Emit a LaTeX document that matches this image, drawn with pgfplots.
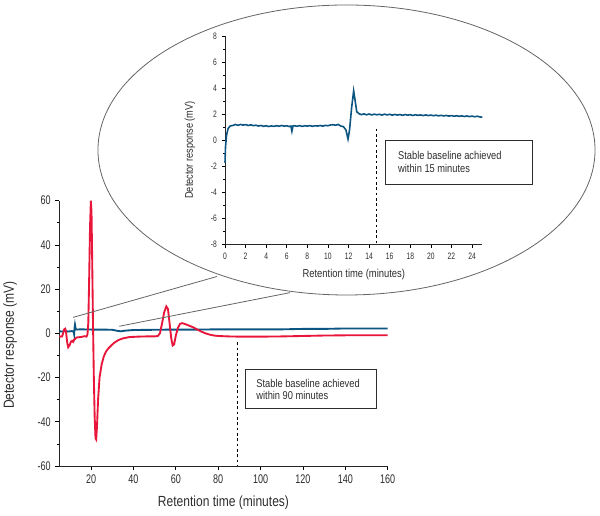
\documentclass[border=0pt]{standalone}
\usepackage{fontspec}
\setmainfont{Liberation Sans}[FakeStretch=0.82]
\newfontfamily\tickfont{Liberation Sans}[FakeStretch=0.72]
\usepackage{pgfplots}
\pgfplotsset{compat=1.18}
\definecolor{cred}{RGB}{232,22,58}
\definecolor{cblue}{RGB}{12,84,130}
\definecolor{cgray}{RGB}{100,100,100}
\definecolor{ctext}{RGB}{45,45,45}

\begin{document}
\begin{tikzpicture}[x=0.75pt,y=0.75pt]
\path[use as bounding box] (0,0) rectangle (600,516);
\draw[cgray, line width=0.6pt] (346.5,366) ellipse [x radius=186.4pt, y radius=108.75pt];

\begin{axis}[name=main, at={(44.475pt,37.5pt)}, anchor=south west, scale only axis,
  width=246.3pt, height=199pt,
  xmin=5, xmax=160, ymin=-60, ymax=60,
  axis x line*=bottom, axis y line*=left,
  axis line style={-, line width=0.7pt, black!85},
  xtick={20,40,...,160}, ytick={-60,-40,...,60}, minor ytick={-50,-30,...,50},
  tick align=outside, major tick length=3pt, minor tick length=2pt,
  tick style={black, line width=0.5pt},
  ticklabel style={font=\tickfont\fontsize{9.4}{10}\selectfont, text=ctext},
  /pgf/number format/assume math mode=true,
  clip=false]
\addplot[cblue, line width=1.4pt] coordinates {
(5,1.0) (6,0.8) (7,0.9) (8,1.0) (9,0.8) (10,0.9) (11,1.0) (11.8,0.8) (12.0,-0.3)
(12.2,2.5) (12.4,3.9) (12.6,2.8) (12.8,1.8) (13,1.7) (15,1.8) (20,1.7) (25,1.7)
(30,1.6) (32,1.2) (34,0.9) (36,1.2) (40,1.5) (50,1.6) (60,1.7) (70,1.7) (80,1.8)
(90,1.8) (100,1.8) (110,1.8) (120,2.0) (130,2.0) (140,2.2) (150,2.2) (160,2.2)};
\addplot[cred, line width=1.4pt] coordinates {
(5,-1.3) (5.5,-1.5) (6.3,-1.4) (6.8,0) (7.3,1.8) (7.8,2.1) (8.2,0.5) (8.7,-4)
(9.2,-6.3) (9.8,-5.5) (10.5,-3.8) (11.0,-3.4) (11.5,-3.9) (12.0,-2.8) (12.5,-2.6)
(13.0,-1.9) (14,-1.8) (15,-1.7) (16,-1.5) (17,-1.3) (17.8,-1.5) (18.3,-0.5)
(18.7,5) (19.1,25) (19.5,48) (19.9,60) (20.2,55) (20.5,35) (20.9,5) (21.3,-20)
(21.7,-38) (22.1,-47.5) (22.4,-48) (22.8,-42) (23.3,-30) (24,-20) (25,-14)
(26,-10.5) (27,-8.3) (28,-7) (29.5,-5.5) (31,-4.2) (33,-3) (35,-2.3) (38,-1.7)
(42,-1.5) (46,-1.4) (50,-1.4) (51.5,-1.2) (52.5,0) (53.5,4.5) (54.5,9.5)
(55.5,12.2) (56.3,11) (57,5) (57.8,-2) (58.5,-5.5) (59.2,-5) (60,-1) (61,2.5)
(62,4.3) (63,4.6) (64,4.3) (66,3.6) (68,2.8) (70,1.8) (72,0.8) (74,0) (76,-0.6)
(78,-1.0) (80,-1.2) (85,-1.4) (90,-1.5) (100,-1.5) (110,-1.4) (120,-1.2)
(130,-1.0) (140,-0.9) (150,-0.9) (160,-0.9)};
\draw[black, line width=0.5pt, dash pattern=on 2pt off 2pt] (axis cs:89,-4) -- (axis cs:89,-60);
\draw[ctext, line width=0.8pt] (axis cs:92.7,-16.4) rectangle (axis cs:154.5,-34.1);
\node[anchor=west, align=left, font=\fontsize{8.5}{9}\selectfont, text=ctext, inner sep=0pt]
  at (axis cs:97.9,-25.2) {Stable baseline achieved\\within 90 minutes};
\draw[cgray, line width=0.6pt] (axis cs:11.5,7.2) -- (axis cs:79.4,25.7);
\draw[cgray, line width=0.6pt] (axis cs:33.3,3.2) -- (axis cs:113.9,18.4);
\end{axis}

\begin{axis}[name=inset, at={(168.75pt,203.475pt)}, anchor=south west, scale only axis,
  width=193pt, height=156.5pt,
  xmin=0, xmax=25, ymin=-8, ymax=8,
  axis x line*=bottom, axis y line*=left,
  axis line style={-, line width=0.6pt, black!85},
  xtick={0,2,...,24}, ytick={-8,-6,...,8}, minor ytick={-7,-5,...,7},
  tick align=outside, major tick length=2.5pt, minor tick length=1.5pt,
  tick style={black, line width=0.4pt},
  ticklabel style={font=\tickfont\fontsize{7}{8}\selectfont, text=ctext},
  /pgf/number format/assume math mode=true,
  clip=false]
\addplot[cblue, line width=1.2pt] coordinates {
(0,-1.7) (0.05,-0.5) (0.15,0.4) (0.3,0.9) (0.5,1.1) (0.8,1.15) (1.0,1.22) (1.25,1.15)
(1.5,1.22) (1.75,1.17) (2.0,1.21) (2.25,1.14) (2.5,1.19) (2.75,1.13) (3.0,1.16)
(3.25,1.1) (3.5,1.14) (3.75,1.08) (4.0,1.12) (4.25,1.06) (4.5,1.11) (4.75,1.07)
(5.0,1.13) (5.25,1.08) (5.5,1.14) (5.75,1.09) (6.0,1.12) (6.25,1.06) (6.4,1.1)
(6.5,0.7) (6.6,1.1) (6.75,1.12) (7.0,1.08) (7.25,1.13) (7.5,1.07) (7.75,1.12)
(8.0,1.09) (8.25,1.13) (8.5,1.08) (8.75,1.12) (9.0,1.1) (9.25,1.14) (9.5,1.09)
(9.75,1.15) (10.0,1.12) (10.25,1.18) (10.5,1.2) (10.75,1.16) (11.0,1.22)
(11.25,1.1) (11.5,1.05) (11.75,0.8) (11.95,0.1) (12.1,0.8) (12.3,2.5) (12.5,3.8)
(12.65,3.0) (12.8,2.2) (13.0,2.05) (13.25,1.97) (13.5,2.03) (13.75,1.96)
(14.0,2.02) (14.25,1.95) (14.5,2.01) (14.75,1.96) (15.0,2.0) (15.25,1.94)
(15.5,2.01) (15.75,1.95) (16.0,2.0) (16.25,1.93) (16.5,1.99) (16.75,1.94)
(17.0,1.98) (17.25,1.92) (17.5,1.98) (17.75,1.93) (18.0,1.97) (18.25,1.91)
(18.5,1.96) (18.75,1.92) (19.0,1.95) (19.25,1.9) (19.5,1.95) (19.75,1.9)
(20.0,1.94) (20.25,1.89) (20.5,1.93) (20.75,1.88) (21.0,1.92) (21.25,1.87)
(21.5,1.91) (21.75,1.86) (22.0,1.9) (22.25,1.85) (22.5,1.89) (22.75,1.84)
(23.0,1.88) (23.25,1.83) (23.5,1.87) (23.75,1.82) (24.0,1.86) (24.25,1.81)
(24.5,1.85) (24.75,1.8) (25.0,1.78)};
\draw[black, line width=0.5pt, dash pattern=on 2pt off 2pt] (axis cs:14.7,0.9) -- (axis cs:14.7,-8);
\draw[ctext, line width=0.8pt] (axis cs:15.6,0) rectangle (axis cs:29.9,-3.37);
\node[anchor=west, align=left, font=\fontsize{8.5}{9.3}\selectfont, text=ctext, inner sep=0pt]
  at (axis cs:16.8,-1.65) {Stable baseline achieved\\within 15 minutes};
\end{axis}

\node[font=\fontsize{11}{13}\selectfont, text=ctext] at (223.5,13) {Retention time (minutes)};
\node[font=\fontsize{11}{13}\selectfont, text=ctext, rotate=90] at (10,171) {Detector response (mV)};
\node[font=\fontsize{8.6}{9}\selectfont, text=ctext] at (353.8,241) {Retention time (minutes)};
\node[font=\fontsize{8.4}{9}\selectfont, text=ctext, rotate=90] at (190,366) {Detector response (mV)};
\end{tikzpicture}
\end{document}
